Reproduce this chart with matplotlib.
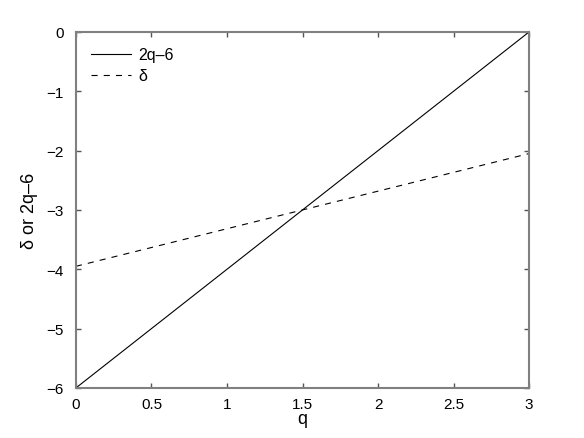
import matplotlib.pyplot as plt

# values
q = [0.0, 1.5, 3.0]
line_2q6 = [-6.0, -3.0, 0.0]
delta = [-3.95, -3.0, -2.05]

xticks = [0, 0.5, 1, 1.5, 2, 2.5, 3]
xticklabels = ['0', '0.5', '1', '1.5', '2', '2.5', '3']
yticks = [-6, -5, -4, -3, -2, -1, 0]
yticklabels = ['\u22126', '\u22125', '\u22124', '\u22123', '\u22122', '\u22121', '0']

plt.rcParams['font.family'] = ['Liberation Sans', 'DejaVu Sans']

fig = plt.figure(figsize=(5.84, 4.39), dpi=100)
ax = fig.add_axes([0.13, 0.114, 0.776, 0.811])

ax.plot(q, line_2q6, color='black', linewidth=0.8, linestyle='-', label='2q\u20136')
ax.plot(q, delta, color='black', linewidth=0.8, linestyle=(0, (5.5, 5.5)), label='\u03b4')

ax.set_xlim(0, 3)
ax.set_ylim(-6, 0)
ax.set_xticks(xticks)
ax.set_xticklabels(xticklabels)
ax.set_yticks(yticks)
ax.set_yticklabels(yticklabels)
ax.tick_params(direction='in', top=True, right=True, labelsize=11, length=3.5,
               width=1, color='#555555')
ax.tick_params(axis='x', pad=6.5)
ax.tick_params(axis='y', pad=9)
for s in ax.spines.values():
    s.set_color('#808080')
    s.set_linewidth(1.5)

ax.set_xlabel('q', fontsize=13)
ax.set_ylabel('\u03b4 or 2q\u20136', fontsize=13)
ax.xaxis.set_label_coords(0.5, -0.062)
ax.yaxis.set_label_coords(-0.083, 0.5)

ax.legend(loc='upper left', frameon=False, fontsize=11.5, handlelength=2.5,
          borderaxespad=0.55, labelspacing=0.4, handletextpad=0.45)

fig.savefig('out.png', dpi=100)
